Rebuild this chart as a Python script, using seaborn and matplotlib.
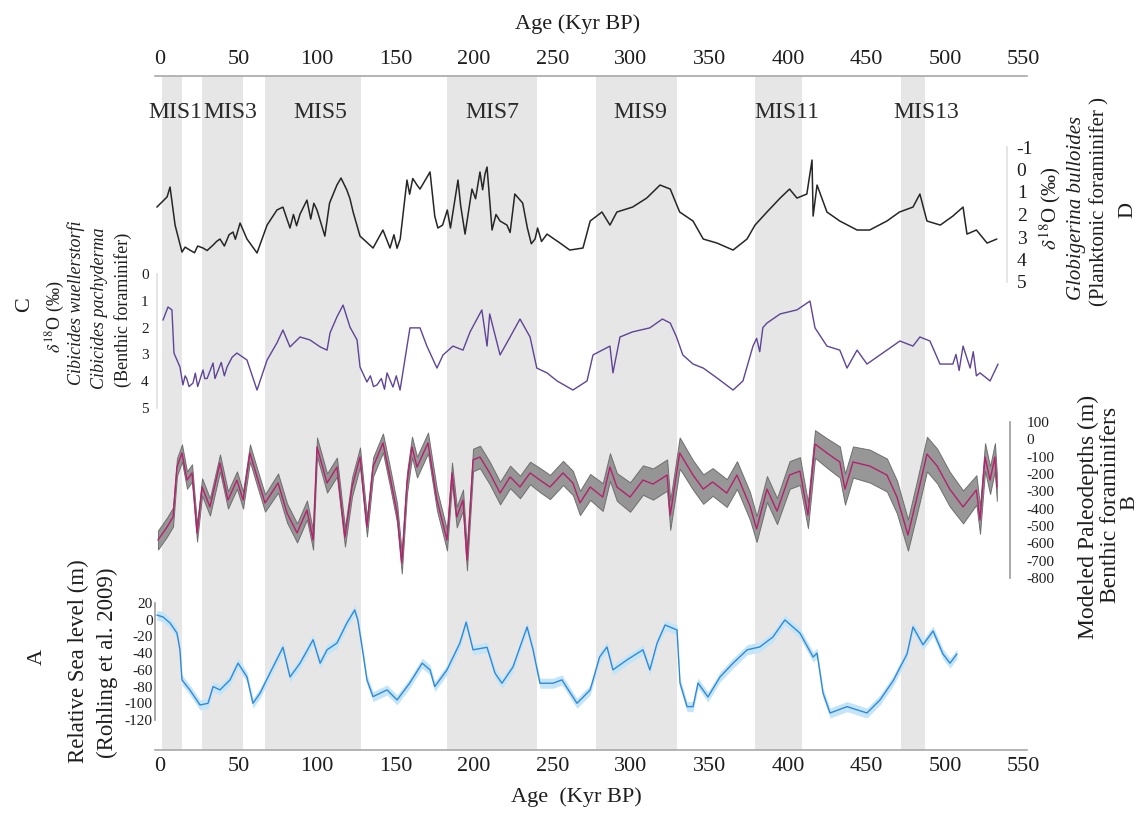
import numpy as np
import pandas as pd
import matplotlib
matplotlib.use("Agg")
from matplotlib import pyplot as plt
import seaborn as sns

sns.set_theme(style="white")
plt.rcParams['font.family'] = ['Liberation Serif', 'DejaVu Serif']
plt.rcParams['mathtext.fontset'] = 'stix'
plt.rcParams['axes.unicode_minus'] = False

W, H = 1146, 814

# marine isotope stages (kyr BP)
mis_names = ["MIS1", "MIS3", "MIS5", "MIS7", "MIS9", "MIS11", "MIS13"]
mis_start = [1, 27, 67, 183, 278, 379, 472]
mis_end = [14, 53, 128, 240, 329, 409, 487]
mis_label_age = [9.5, 45, 102, 211.5, 305.7, 399, 488]

age_ticks = [0, 50, 100, 150, 200, 250, 300, 350, 400, 450, 500, 550]

# D - planktonic d18O (Globigerina bulloides)
d_age = [-2, 4.5, 6.4, 9.6, 14, 16, 19, 22, 24, 27.4, 30, 33.8, 36, 38.2, 41, 44,
         46.5, 48, 51, 55.4, 61.8, 68.2, 74.5, 78.3, 82.8, 85, 87, 89.2, 93.6, 96,
         98, 100, 105, 108, 112.7, 115.3, 119, 121, 123, 127.4, 135.7, 142, 146.5,
         149, 151, 153, 157.3, 159, 161, 163.7, 165.6, 172, 175, 177, 180, 183,
         185, 186.6, 189.8, 191.5, 194.3, 198.7, 201, 203.8, 205.5, 207, 208.3,
         211.5, 214, 216.6, 221, 223, 226, 231, 234, 236.5, 238.9, 240.5, 243,
         246.5, 254.8, 261, 269.4, 274, 281.5, 286.6, 291, 301, 310, 318.5, 325,
         331, 339.5, 346, 354.8, 365, 373.9, 379, 386.6, 395, 401, 405.7, 412,
         415.3, 416, 418.5, 424.8, 433, 444, 452, 463, 471, 479.6, 484, 488.5,
         497, 505, 511.5, 514, 520, 526.8, 533]
d_val = [1.67, 1.22, 0.78, 2.47, 3.67, 3.45, 3.58, 3.7, 3.4, 3.49, 3.6, 3.36, 3.2,
         3.09, 3.4, 2.9, 2.78, 3.1, 2.38, 3.09, 3.71, 2.47, 1.8, 1.67, 2.6, 2.0,
         2.5, 1.98, 1.36, 2.2, 1.5, 1.8, 2.96, 1.49, 0.69, 0.38, 0.91, 1.3, 1.89,
         2.96, 3.49, 2.69, 3.49, 2.9, 3.5, 3.09, 0.47, 1.1, 0.4, 0.69, 0.87, 0.11,
         2.07, 2.6, 2.47, 1.8, 2.6, 1.89, 0.47, 1.6, 2.87, 0.87, 1.3, 0.11, 0.9,
         0.2, -0.11, 2.69, 2.0, 2.29, 2.47, 2.8, 1.09, 1.49, 2.6, 3.3, 3.09, 2.6,
         3.2, 2.87, 3.27, 3.58, 3.49, 2.29, 1.89, 2.47, 1.89, 1.67, 1.27, 0.69,
         0.87, 1.89, 2.29, 3.09, 3.27, 3.58, 3.09, 2.47, 1.89, 1.27, 0.87, 1.27,
         1.09, -0.42, 2.07, 0.69, 1.89, 2.29, 2.69, 2.69, 2.29, 1.89, 1.67, 1.09,
         2.29, 2.47, 2.07, 1.67, 2.87, 2.69, 3.27, 3.09]
d_ticks = [-1, 0, 1, 2, 3, 4, 5]

# C - benthic d18O (Cibicides)
c_age = [1.9, 5.1, 7.6, 8.9, 12.7, 14.6, 16, 17, 18.5, 21, 22.5, 24, 27.4, 28.5,
         30, 33.8, 35, 37, 39, 41, 42.7, 46, 49, 55.4, 61.8, 68.2, 74.5, 78.3,
         82.8, 89.2, 95.5, 102, 106.4, 108.3, 112.7, 116.6, 121, 125.5, 127.4,
         131.8, 134, 136, 138.2, 141, 143, 144.6, 148.4, 150.5, 152.9, 159.2,
         165.6, 170, 176.4, 180.3, 186.6, 193, 197.5, 205, 208.3, 210, 216.6, 223,
         229.3, 235.7, 240, 246.5, 252.9, 263, 272, 275.8, 286.6, 288.5, 293, 301,
         312, 320, 325, 329, 333, 339.5, 346, 354.8, 365, 371.3, 377.7, 380, 382,
         384, 386.6, 395, 405.7, 414, 417.2, 424.8, 433, 437.6, 444, 450.3, 458.6,
         471.3, 479.6, 484, 490.4, 496.8, 505, 507, 509, 511.5, 516, 518, 520,
         522.3, 528.7, 533.8]
c_val = [1.72, 1.23, 1.34, 2.95, 3.47, 4.14, 3.8, 3.9, 4.2, 4.07, 3.7, 4.2, 3.58,
         3.9, 3.9, 3.32, 3.9, 3.6, 3.3, 3.8, 3.47, 3.1, 2.95, 3.21, 4.33, 3.21,
         2.57, 2.09, 2.72, 2.35, 2.46, 2.72, 2.84, 2.2, 1.6, 1.16, 1.98, 2.46,
         3.47, 4.03, 3.8, 4.2, 4.14, 3.9, 4.3, 3.69, 4.22, 3.8, 4.33, 2.01, 2.01,
         2.69, 3.51, 3.02, 2.69, 2.84, 2.16, 1.34, 2.69, 1.49, 3.02, 2.35, 1.68,
         2.35, 3.51, 3.69, 3.99, 4.33, 3.99, 3.02, 2.69, 3.69, 2.35, 2.16, 2.01,
         1.68, 1.83, 2.35, 3.02, 3.36, 3.51, 3.88, 4.33, 3.99, 2.69, 2.4, 2.9,
         2.0, 1.83, 1.49, 1.34, 1.01, 2.01, 2.69, 2.84, 3.51, 2.84, 3.36, 3.02,
         2.5, 2.69, 2.35, 2.5, 3.36, 3.36, 3.0, 3.6, 2.69, 3.51, 2.9, 3.8, 3.69,
         3.99, 3.36]
c_ticks = [0, 1, 2, 3, 4, 5]

# B - modeled paleodepth (m) with uncertainty
b_age = [-1.3, 4.5, 8.3, 10.8, 14, 17.2, 20.4, 23.6, 26.8, 31.8, 38.2, 43.3, 49,
         52.9, 57.3, 61.8, 66.9, 75.2, 80.9, 87.3, 93.6, 97.5, 100, 106.4, 112.7,
         117.8, 122.3, 127.4, 131.8, 135.7, 142, 146.5, 151, 154, 157.3, 160.5,
         163.7, 170.7, 176.4, 182.8, 186, 189, 193, 195.5, 199.4, 203.8, 210,
         216.6, 223, 229.3, 235.7, 242, 248.4, 256.7, 263, 267.5, 274, 282,
         286.6, 291, 299.4, 307.6, 314, 323, 325, 331, 339.5, 346, 352, 361,
         367.5, 375.8, 380, 386.6, 393, 401, 407.6, 412.7, 417.2, 424.8, 433,
         436.3, 441.4, 452, 463, 469.4, 476.4, 482.2, 488.5, 495, 503, 511.5,
         520, 522.3, 525.5, 528.7, 531.8, 533]
b_val = [-581, -506, -448, -160, -79, -235, -194, -540, -275, -390, -137, -350,
         -235, -350, -79, -217, -367, -252, -425, -540, -408, -581, -44, -252,
         -160, -564, -275, -102, -506, -160, -21, -217, -425, -714, -252, -44,
         -160, -21, -350, -581, -194, -448, -350, -696, -119, -102, -194, -310,
         -217, -275, -194, -235, -275, -194, -252, -367, -275, -333, -160, -275,
         -333, -235, -258, -206, -437, -79, -206, -287, -246, -310, -206, -385,
         -517, -287, -414, -206, -183, -437, -27, -79, -131, -287, -131, -154,
         -206, -333, -552, -333, -85, -154, -287, -390, -292, -465, -102, -235,
         -102, -275]
b_err = [55, 55, 55, 50, 50, 50, 50, 50, 50, 50, 50, 50, 50, 50, 50, 50, 50, 55,
         55, 55, 55, 55, 55, 55, 55, 55, 55, 55, 55, 55, 55, 55, 55, 60, 60, 60,
         60, 60, 60, 60, 60, 60, 60, 60, 65, 65, 65, 65, 65, 65, 65, 70, 70, 70,
         70, 70, 75, 80, 80, 80, 85, 85, 90, 90, 85, 90, 85, 85, 80, 80, 80, 80,
         75, 75, 75, 80, 80, 75, 80, 85, 90, 90, 90, 95, 95, 95, 90, 95, 100, 100,
         100, 95, 85, 80, 80, 80, 80, 80]
b_ticks = [100, 0, -100, -200, -300, -400, -500, -600, -700, -800]

# A - relative sea level (m), Rohling et al. 2009
a_age = [-2, 1.9, 6.4, 10.8, 12.7, 14, 19, 25.5, 30.6, 33.8, 38.2, 44.6, 49.7,
         55.4, 59.2, 63.7, 70, 78.3, 82.8, 89.2, 97.5, 102, 106.4, 112.7, 119,
         124, 126, 129.3, 131.8, 135.7, 144.6, 151, 159, 167, 172, 175, 182.8,
         191, 195, 199.4, 208.3, 213.4, 217.8, 224.8, 233.8, 237.6, 242, 250.3,
         256, 265.6, 274, 280, 284.7, 288.5, 297.5, 307.6, 312, 316.6, 321.7,
         329.3, 331.2, 335.7, 339.5, 342.7, 349, 356.7, 365, 374, 382, 390.4, 398,
         407.6, 416, 418.5, 422.3, 426.8, 437.6, 450.3, 458.6, 467, 475.8, 479.6,
         486, 492.4, 498.7, 503.2, 507.6]
a_val = [5.6, 3.3, -3.9, -15.9, -36, -72, -84, -102, -100, -80, -84, -72, -52,
         -68.5, -100, -88, -64, -33, -68.5, -52, -24, -52, -36, -28, -4, 11.6,
         -0.3, -40, -72, -92, -84, -96, -76, -52, -60, -80, -60, -28, -3, -36,
         -33, -64, -76, -56.6, -8.7, -36, -76, -76, -72, -100, -84, -44.6, -32.6,
         -60, -48, -36, -60, -28, -6.3, -12.3, -75.7, -104, -104, -75.7, -92.4,
         -68.5, -52, -36, -32.6, -20.7, -0.3, -16, -44.6, -40, -87.7, -111.6,
         -104, -111.6, -96, -73, -41, -8.7, -30, -13.5, -41, -52, -41]
a_ticks = [20, 0, -20, -40, -60, -80, -100, -120]

ink = '#1e1e1e'


def px_kyr(px):
    # bottom axis: 0 kyr at x=160 px, 1.57 px per kyr
    return (px - 160) / 1.57


def panel(x0, x1, y0, y1):
    # axes placed by image pixels (y measured from the top)
    a = fig.add_axes([x0 / W, 1 - y1 / H, (x1 - x0) / W, (y1 - y0) / H])
    a.patch.set_alpha(0)
    for s in a.spines.values():
        s.set_visible(False)
    return a


def finish(a, x0, x1, ylim, ticks):
    a.set_xlim(px_kyr(x0), px_kyr(x1))
    a.set_ylim(*ylim)
    a.set_xticks([])
    a.set_yticks(ticks)
    a.set_xlabel('')
    a.set_ylabel('')
    a.tick_params(axis='y', length=0, colors=ink)


def label(x, y, s, size, **kw):
    fig.text(x / W, 1 - y / H, s, ha='center', va='center', rotation=90,
             fontsize=size, color=ink, **kw)


fig = plt.figure(figsize=(W / 100, H / 100), dpi=100)

# background axes with both age axes and the MIS bands
ax = panel(155.3, 1026.6, 76, 750)
for a, b in zip(mis_start, mis_end):
    ax.axvspan(a, b, color='#e6e6e6', lw=0)
ax.set_xlim(px_kyr(155.3), px_kyr(1026.6))
ax.set_ylim(0, 1)
ax.set_yticks([])
ax.set_xticks(age_ticks)
for s in ['top', 'bottom']:
    ax.spines[s].set_visible(True)
    ax.spines[s].set_color('#a8a8a8')
    ax.spines[s].set_linewidth(1.2)
ax.tick_params(axis='x', length=0, labelsize=16, colors=ink, labeltop=True, pad=5)
for name, x in zip(mis_names, mis_label_age):
    ax.text(x, (750 - 112) / (750 - 76), name, ha='center', va='center',
            fontsize=17, color='#2a2a2a')

fig.text(578 / W, 1 - 24 / H, 'Age (Kyr BP)', ha='center', va='center',
         fontsize=16, color=ink)
fig.text(576 / W, 1 - 797 / H, 'Age  (Kyr BP)', ha='center', va='center',
         fontsize=16, color=ink)

# D - planktonic
axd = panel(155.3, 1007, 147, 282)
sns.lineplot(x=d_age, y=d_val, ax=axd, color='#262626', lw=1.1, estimator=None)
finish(axd, 155.3, 1007, (5, -1), d_ticks)
axd.yaxis.tick_right()
axd.spines['right'].set_visible(True)
axd.spines['right'].set_color('#e2e2e2')
axd.tick_params(axis='y', labelsize=14, pad=7)

# C - benthic
axc = panel(157, 1026.6, 274, 408)
sns.lineplot(x=c_age, y=c_val, ax=axc, color='#5f4497', lw=1.0, estimator=None)
finish(axc, 157, 1026.6, (5, 0), c_ticks)
axc.spines['left'].set_visible(True)
axc.spines['left'].set_color('#e2e2e2')
axc.tick_params(axis='y', labelsize=11, pad=6)

# B - paleodepth
axb = panel(155.3, 1010, 422, 578)
b_lo = np.array(b_val) - np.array(b_err)
b_hi = np.array(b_val) + np.array(b_err)
axb.fill_between(b_age, b_lo, b_hi, color='#8c8c8c', alpha=0.9, lw=0.7,
                 edgecolor='#666666')
sns.lineplot(x=b_age, y=b_val, ax=axb, color='#b3226c', lw=1.0, estimator=None)
finish(axb, 155.3, 1010, (-800, 100), b_ticks)
axb.yaxis.tick_right()
axb.spines['right'].set_visible(True)
axb.spines['right'].set_color('#a0a0a0')
axb.tick_params(axis='y', labelsize=11, pad=12)
for t in axb.get_yticklabels():
    t.set_ha('left')

# A - sea level
axa = panel(155.3, 1026.6, 603, 720)
a_arr = np.array(a_val)
axa.fill_between(a_age, a_arr - 6, a_arr + 6, color='#c4e4f7', lw=0)
sns.lineplot(x=a_age, y=a_val, ax=axa, color='#2f8ad6', lw=1.0, estimator=None)
finish(axa, 155.3, 1026.6, (-120, 20), a_ticks)
axa.spines['left'].set_visible(True)
axa.spines['left'].set_color('#a0a0a0')
axa.tick_params(axis='y', labelsize=11, pad=2)

# side titles
label(1050, 208, r'$\delta^{18}$O (‰)', 15)
label(1077, 208, 'Globigerina bulloides', 15, style='italic')
label(1100, 202, '(Planktonic foraminifer )', 15)
label(1128, 210, 'D', 16)

label(25, 305, 'C', 16)
label(55, 317, r'$\delta^{18}$O (‰)', 13)
label(76, 303, 'Cibicides wuellerstorfi', 13, style='italic')
label(100, 308, 'Cibicides pachyderma', 13, style='italic')
label(123, 310, '(Benthic foraminifer)', 13)

label(1088, 517, 'Modeled Paleodepths (m)', 17)
label(1110, 505, 'Benthic foraminifers', 17)
label(1130, 503, 'B', 16)

label(37, 657, 'A', 16)
label(78, 661, 'Relative Sea level (m)', 16.5)
label(107, 663, '(Rohling et al. 2009)', 16.5)

fig.savefig('out.png', dpi=100)
